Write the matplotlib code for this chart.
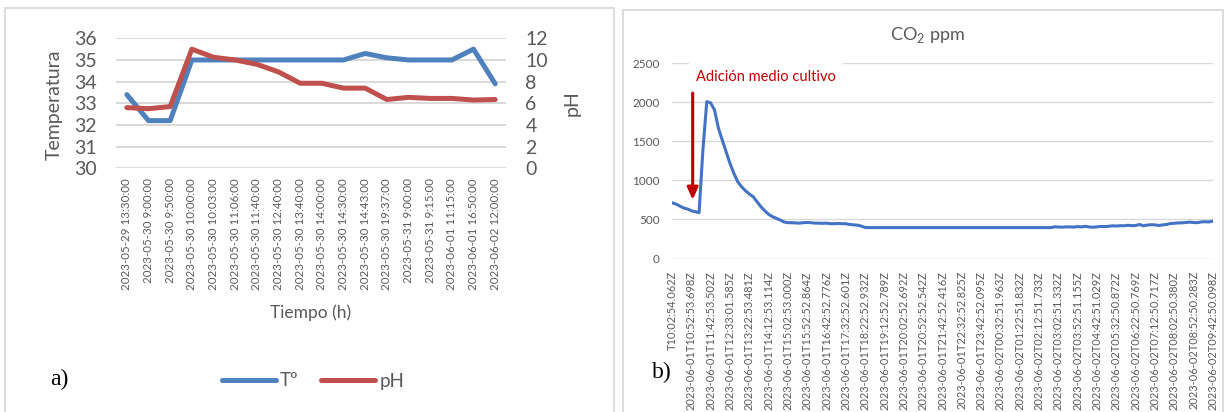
import matplotlib
matplotlib.use('Agg')
import matplotlib.pyplot as plt
from matplotlib.patches import Rectangle
from matplotlib.lines import Line2D
import numpy as np

plt.rcParams['font.family'] = ['Lato', 'DejaVu Sans']
plt.rcParams['mathtext.fontset'] = 'custom'
plt.rcParams['mathtext.rm'] = 'Lato'

# ---------------- data: panel a ----------------
time_labels_a = [
    "2023-05-29 13:30:00", "2023-05-30 9:00:00", "2023-05-30 9:50:00",
    "2023-05-30 10:00:00", "2023-05-30 10:03:00", "2023-05-30 11:06:00",
    "2023-05-30 11:40:00", "2023-05-30 12:40:00", "2023-05-30 13:40:00",
    "2023-05-30 14:00:00", "2023-05-30 14:30:00", "2023-05-30 14:43:00",
    "2023-05-30 19:37:00", "2023-05-31 9:00:00", "2023-05-31 9:15:00",
    "2023-06-01 11:15:00", "2023-06-01 16:50:00", "2023-06-02 12:00:00",
]
temperatura = [33.4, 32.2, 32.2, 35.0, 35.0, 35.0, 35.0, 35.0, 35.0,
               35.0, 35.0, 35.3, 35.1, 35.0, 35.0, 35.0, 35.5, 33.9]
ph = [5.6, 5.5, 5.7, 11.0, 10.25, 10.0, 9.6, 8.9, 7.85,
      7.85, 7.4, 7.4, 6.35, 6.55, 6.45, 6.45, 6.3, 6.35]

# ---------------- data: panel b ----------------
time_labels_b = [
    "T10:02:54.062Z", "2023-06-01T10:52:53.698Z", "2023-06-01T11:42:53.502Z",
    "2023-06-01T12:33:01.585Z", "2023-06-01T13:22:53.481Z", "2023-06-01T14:12:53.114Z",
    "2023-06-01T15:02:53.000Z", "2023-06-01T15:52:52.864Z", "2023-06-01T16:42:52.776Z",
    "2023-06-01T17:32:52.601Z", "2023-06-01T18:22:52.932Z", "2023-06-01T19:12:52.789Z",
    "2023-06-01T20:02:52.692Z", "2023-06-01T20:52:52.542Z", "2023-06-01T21:42:52.416Z",
    "2023-06-01T22:32:52.825Z", "2023-06-01T23:42:52.095Z", "2023-06-02T00:32:51.963Z",
    "2023-06-02T01:22:51.832Z", "2023-06-02T02:12:51.733Z", "2023-06-02T03:02:51.332Z",
    "2023-06-02T03:52:51.155Z", "2023-06-02T04:42:51.029Z", "2023-06-02T05:32:50.872Z",
    "2023-06-02T06:22:50.769Z", "2023-06-02T07:12:50.717Z", "2023-06-02T08:02:50.380Z",
    "2023-06-02T08:52:50.283Z", "2023-06-02T09:42:50.098Z",
]
co2_ppm = [
    713, 697, 671, 646, 633, 611, 598, 586, 1390, 2005,
    1990, 1900, 1670, 1515, 1366, 1217, 1090, 982, 918, 867,
    825, 790, 727, 663, 611, 565, 535, 514, 492, 467,
    458, 458, 455, 452, 458, 460, 458, 452, 452, 450,
    452, 445, 445, 448, 445, 445, 435, 430, 426, 414,
    396, 395, 395, 395, 396, 395, 395, 395, 395, 396,
    395, 395, 395, 395, 395, 396, 395, 395, 395, 395,
    395, 395, 396, 395, 395, 395, 395, 395, 395, 395,
    396, 395, 395, 395, 395, 395, 395, 396, 395, 395,
    395, 395, 395, 395, 395, 396, 395, 395, 395, 405,
    402, 400, 405, 403, 402, 408, 404, 412, 403, 400,
    405, 410, 408, 412, 418, 415, 420, 418, 425, 420,
    422, 435, 418, 428, 432, 430, 422, 430, 435, 448,
    450, 455, 456, 460, 465, 460, 458, 468, 470, 468,
    478,
]
label_step_b = 5

# ---------------- layout helpers ----------------
W, H = 1226, 412
fig = plt.figure(figsize=(W / 100, H / 100), dpi=100)


def fx(px):
    return px / W


def fy(py):
    return 1 - py / H


GREY = '#595959'
GRID = '#d9d9d9'

# panel borders
for (x0, y0, x1, y1) in [(5, 8, 614, 440), (623, 10, 1223, 440)]:
    fig.patches.append(Rectangle((fx(x0), fy(y1)), fx(x1) - fx(x0), fy(y0) - fy(y1),
                                 transform=fig.transFigure, fill=False,
                                 edgecolor=GRID, lw=1.3))

# ---------------- panel a ----------------
ax1 = fig.add_axes([fx(116), fy(168.3), fx(506) - fx(116), (168.3 - 38.3) / H])
xa = np.arange(len(temperatura))
l1, = ax1.plot(xa, temperatura, color='#4F81BD', lw=3.6,
               solid_capstyle='round', solid_joinstyle='round')
ax1.set_xlim(-0.5, len(temperatura) - 0.5)
ax1.set_ylim(30, 36)
ax1.set_yticks(range(30, 37))
ax1.yaxis.grid(True, color=GRID, lw=1.4)
ax1.set_axisbelow(True)
for s in ax1.spines.values():
    s.set_visible(False)
ax1.tick_params(axis='y', length=0, colors=GREY, labelsize=14, pad=14)
ax1.set_xticks(xa)
ax1.set_xticklabels(time_labels_a, rotation=90, fontsize=8.3, color=GREY)
ax1.tick_params(axis='x', length=0, pad=7)

ax2 = ax1.twinx()
l2, = ax2.plot(xa, ph, color='#C0504D', lw=3.6,
               solid_capstyle='round', solid_joinstyle='round')
ax2.set_ylim(0, 12)
ax2.set_yticks(range(0, 13, 2))
for s in ax2.spines.values():
    s.set_visible(False)
ax2.tick_params(axis='y', length=0, colors=GREY, labelsize=14, pad=14)

fig.text(fx(54), fy(105), 'Temperatura', rotation=90, ha='center', va='center',
         fontsize=14, color=GREY)
fig.text(fx(572), fy(103), 'pH', rotation=90, ha='center', va='center',
         fontsize=14, color=GREY)
fig.text(fx(311), fy(313), 'Tiempo (h)', ha='center', va='center',
         fontsize=12.5, color=GREY)

leg = fig.legend([l1, l2], ['Tº', 'pH'], loc='center', bbox_to_anchor=(fx(313), fy(381)),
                 ncol=2, frameon=False, fontsize=13.5, handlelength=2.9,
                 handletextpad=0.2, columnspacing=1.2)
for t in leg.get_texts():
    t.set_color(GREY)

fig.text(fx(59), fy(379), 'a)', ha='center', va='center', fontsize=17,
         family='Liberation Serif', color='black')

# ---------------- panel b ----------------
ax3 = fig.add_axes([fx(672), fy(258.5), fx(1213) - fx(672), 195.5 / H])
xb = np.arange(len(co2_ppm))
ax3.plot(xb, co2_ppm, color='#4472C4', lw=2.2, solid_joinstyle='round')
ax3.set_xlim(0, len(co2_ppm) - 1)
ax3.set_ylim(0, 2500)
ax3.set_yticks(range(0, 2501, 500))
ax3.yaxis.grid(True, color=GRID, lw=1.0)
ax3.set_axisbelow(True)
for s in ax3.spines.values():
    s.set_visible(False)
ax3.tick_params(axis='y', length=0, colors=GREY, labelsize=8.5, pad=9)
ax3.set_xticks(xb[::label_step_b])
ax3.set_xticklabels(time_labels_b, rotation=90, fontsize=7.9, color=GREY)
ax3.tick_params(axis='x', length=0, pad=9)

fig.text(fx(927), fy(35), 'CO$_2$ ppm', ha='center', va='center', fontsize=13, color=GREY)
fig.text(fx(696), fy(77), 'Adición medio cultivo', ha='left', va='center',
         fontsize=10.5, color='#C00000',
         bbox=dict(facecolor='white', edgecolor='none', pad=5))
ax3.annotate('', xy=(5.35, 750), xytext=(5.35, 2115),
             arrowprops=dict(arrowstyle='-|>,head_length=0.45,head_width=0.2',
                             color='#C00000', lw=2.2, mutation_scale=16,
                             shrinkA=0, shrinkB=0))

fig.text(fx(662), fy(372), 'b)', ha='center', va='center', fontsize=17,
         family='Liberation Serif', color='black')

fig.savefig('out.png', dpi=100)
